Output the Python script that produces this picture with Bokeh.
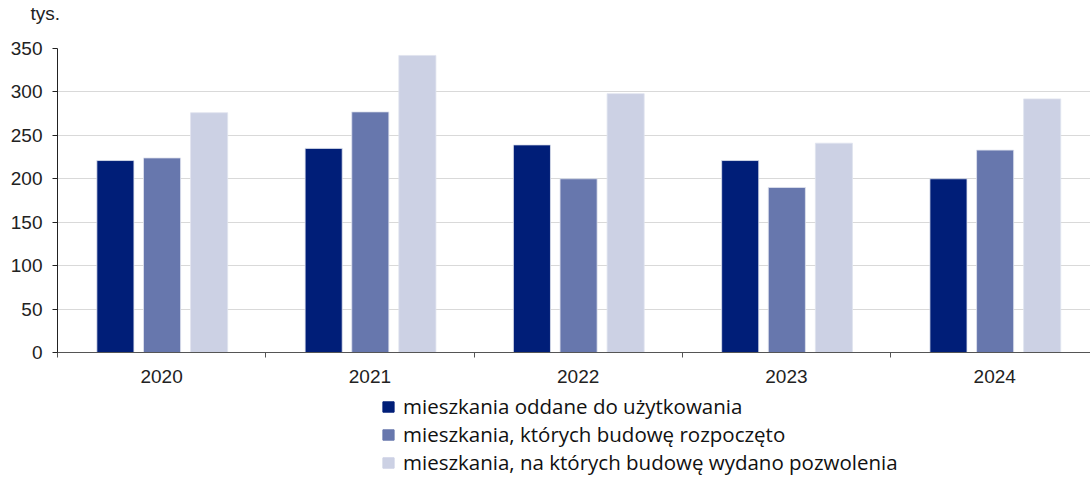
from bokeh.plotting import figure
from bokeh.models import Range1d, FixedTicker, Legend, LegendItem, Title, ColumnDataSource
from bokeh.layouts import column
from bokeh.embed import file_html
from bokeh.resources import INLINE

years = ["2020", "2021", "2022", "2023", "2024"]
oddane = [221, 235, 239, 221, 200]
rozpoczeto = [224, 277, 200, 190, 233]
pozwolenia = [276, 342, 298, 241, 292]
series_names = [
    "mieszkania oddane do użytkowania",
    "mieszkania, których budowę rozpoczęto",
    "mieszkania, na których budowę wydano pozwolenia",
]
colors = ["#001e78", "#6777ad", "#ccd1e4"]
y_ticks = [0, 50, 100, 150, 200, 250, 300, 350]

AX_FONT = "Liberation Sans"
LG_FONT = "Open Sans"

p = figure(width=1090, height=392, output_backend="svg", toolbar_location=None,
           x_range=Range1d(0, 4.96), y_range=Range1d(0, 350),
           min_border_left=57, min_border_right=0, min_border_top=48, min_border_bottom=40)
p.outline_line_color = None
p.background_fill_color = "white"

centers = [i + 0.5 for i in range(len(years))]
offsets = [-0.222, 0.002, 0.228]
renderers = []
for vals, off, col in zip([oddane, rozpoczeto, pozwolenia], offsets, colors):
    src = ColumnDataSource(dict(x=[c + off for c in centers], top=vals))
    r = p.vbar(x="x", top="top", width=0.178, bottom=0, source=src,
               fill_color=col, line_color="#dfe3ef", line_width=0.8)
    renderers.append(r)

# x axis
p.xaxis.ticker = FixedTicker(ticks=centers, minor_ticks=list(range(0, 6)))
p.xaxis.major_label_overrides = {c: y for c, y in zip(centers, years)}
p.xaxis.major_tick_out = 0
p.xaxis.major_tick_in = 0
p.xaxis.minor_tick_out = 5
p.xaxis.minor_tick_in = 0
p.xaxis.minor_tick_line_color = "#555555"
p.xaxis.axis_line_color = "#555555"
p.xaxis.major_label_text_font = AX_FONT
p.xaxis.major_label_text_font_size = "19px"
p.xaxis.major_label_text_color = "#222222"
p.xaxis.major_label_standoff = 12

# y axis
p.yaxis.ticker = FixedTicker(ticks=y_ticks)
p.yaxis.major_tick_out = 5
p.yaxis.major_tick_in = 0
p.yaxis.minor_tick_line_color = None
p.yaxis.axis_line_color = "#222222"
p.yaxis.major_tick_line_color = "#222222"
p.yaxis.major_label_text_font = AX_FONT
p.yaxis.major_label_text_font_size = "19px"
p.yaxis.major_label_text_color = "#222222"
p.yaxis.major_label_standoff = 10

p.xgrid.grid_line_color = None
p.ygrid.grid_line_color = "#d9d9d9"
p.ygrid.grid_line_width = 1.2

p.add_layout(Title(text="tys.\n ", align="left", offset=-27, text_font=AX_FONT,
                   text_font_size="19px", text_font_style="normal", text_color="#222222",
                   text_line_height=1.15, standoff=0), "above")

# legend panel below the chart
lg = figure(width=1090, height=84, output_backend="svg", toolbar_location=None,
            x_range=Range1d(0, 1), y_range=Range1d(0, 1),
            min_border_left=0, min_border_right=0, min_border_top=0, min_border_bottom=0)
lg.axis.visible = False
lg.grid.visible = False
lg.outline_line_color = None
lg_renderers = []
for col in colors:
    lg_renderers.append(lg.vbar(x=[5], top=[1], width=0.1, fill_color=col, line_color=col))

legend = Legend(items=[LegendItem(label=n, renderers=[r]) for n, r in zip(series_names, lg_renderers)],
                location=(324, 0), orientation="vertical",
                label_text_font=LG_FONT, label_text_font_size="20.5px", label_text_color="#111111",
                glyph_width=14, glyph_height=13, label_height=20, label_standoff=8,
                spacing=0, padding=0, margin=0, border_line_color=None,
                background_fill_alpha=0)
lg.add_layout(legend, "center")

layout = column(p, lg, spacing=0)
open("out.html", "w").write(file_html(layout, INLINE))
